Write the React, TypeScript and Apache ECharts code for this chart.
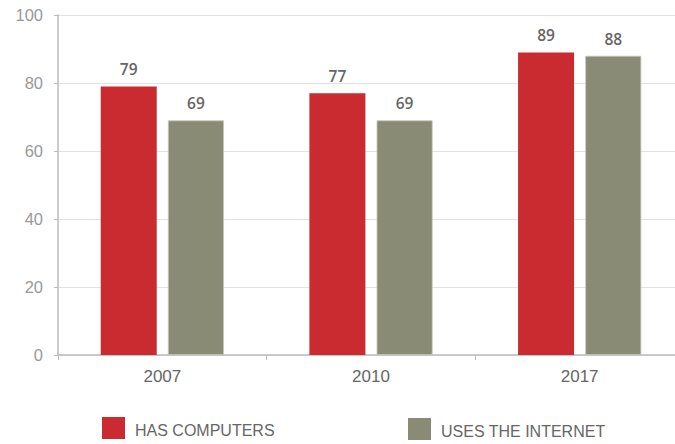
import React, { useEffect, useRef } from "react";
import * as echarts from "echarts";

const years = ["2007", "2010", "2017"];
const hasComputers = [79, 77, 89];
const usesInternet = [69, 69, 88];
const seriesNames = ["HAS COMPUTERS", "USES THE INTERNET"];
const colors = ["#C92B30", "#898B74"];

export default function App() {
  const ref = useRef<HTMLDivElement>(null);
  useEffect(() => {
    const chart = echarts.init(ref.current!, null, { renderer: "svg" });
    const labelStyle = {
      show: true,
      position: "top" as const,
      distance: 9,
      color: "#666",
      fontFamily: "Open Sans",
      fontWeight: 600,
      fontSize: 15.5,
    };
    const legendText = {
      color: "#666",
      fontFamily: "Liberation Sans",
      fontSize: 16,
      rich: {
        t: {
          color: "#666",
          fontFamily: "Liberation Sans",
          fontSize: 16,
          padding: [5, 0, 0, 5],
        },
      },
    };
    const legendBase = {
      padding: 0,
      icon: "rect",
      itemWidth: 23,
      itemHeight: 22,
      itemStyle: { borderWidth: 0 },
      textStyle: legendText,
      formatter: (n: string) => `{t|${n}}`,
      selectedMode: false,
    };
    chart.setOption({
      animation: false,
      grid: {
        left: 58,
        width: 626,
        top: 15,
        bottom: 89,
        containLabel: false,
        outerBoundsMode: "none",
      },
      legend: [
        { ...legendBase, data: [seriesNames[0]], left: 102, top: 417 },
        { ...legendBase, data: [seriesNames[1]], left: 408, top: 418 },
      ],
      xAxis: {
        type: "category",
        data: years,
        axisLine: { lineStyle: { color: "#bbb", width: 1.5 } },
        axisTick: { show: true, length: 5, lineStyle: { color: "#bbb" } },
        axisLabel: {
          color: "#666",
          fontFamily: "Liberation Sans",
          fontSize: 17,
          margin: 13,
        },
      },
      yAxis: {
        type: "value",
        min: 0,
        max: 100,
        interval: 20,
        axisLine: { show: true, lineStyle: { color: "#bbb", width: 1.5 } },
        axisTick: { show: true, length: 4, lineStyle: { color: "#bbb" } },
        axisLabel: {
          color: "#999",
          fontFamily: "Liberation Sans",
          fontSize: 16.5,
          margin: 15,
        },
        splitLine: { lineStyle: { color: "#e2e2e2", width: 1 } },
      },
      series: [
        {
          name: seriesNames[0],
          type: "bar",
          data: hasComputers,
          barWidth: 56,
          barGap: "20%",
          itemStyle: { color: colors[0] },
          label: labelStyle,
        },
        {
          name: seriesNames[1],
          type: "bar",
          data: usesInternet,
          barWidth: 56,
          barGap: "20%",
          itemStyle: { color: colors[1], borderColor: "#c4c6b8", borderWidth: 0.8 },
          label: labelStyle,
        },
      ],
    });
    return () => chart.dispose();
  }, []);
  return <div ref={ref} style={{ width: 675, height: 444, position: "absolute", left: 0, top: 0 }} />;
}
